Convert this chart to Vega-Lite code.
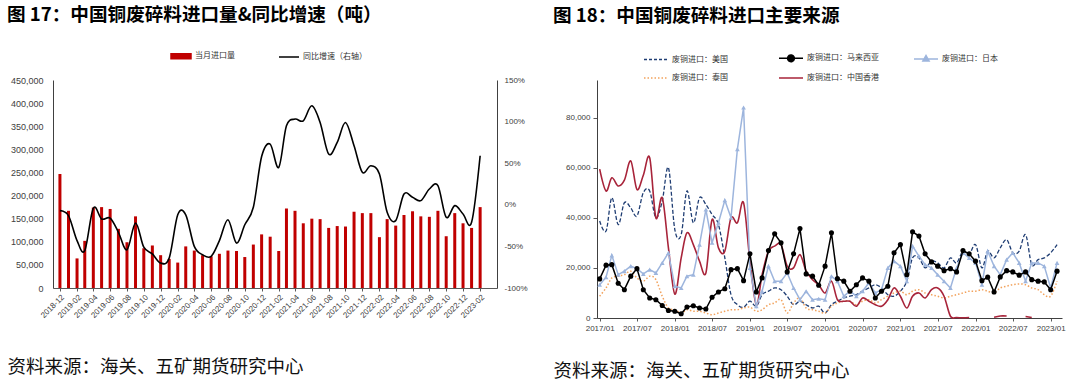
{
  "$schema": "https://vega.github.io/schema/vega-lite/v6.json",
  "background": "white",
  "padding": {"left": 7, "top": 6, "right": 5, "bottom": 4},
  "spacing": 25,
  "resolve": {"scale": {"color": "independent"}, "legend": {"color": "independent"}},
  "config": {
    "view": {"stroke": null},
    "font": "Noto Sans CJK SC",
    "axis": {"labelFont": "Liberation Sans", "labelColor": "#404040", "domainColor": "#595959", "tickColor": "#595959", "grid": false, "titleFont": "Noto Sans CJK SC"},
    "legend": {"labelFont": "Noto Sans CJK SC", "labelColor": "#333333"},
    "title": {"font": "Noto Sans CJK SC"}
  },
  "hconcat": [
    {
      "width": 444,
      "height": 208,
      "title": {"text": "图 17：中国铜废碎料进口量&同比增速（吨）", "anchor": "start", "fontSize": 18.6, "fontWeight": "bold", "color": "#000000", "offset": 20},
      "data": {"values": [
        {"m": "2018-12", "imp": 246600, "yoy": -7},
        {"m": "2019-01", "imp": 167000, "yoy": -13},
        {"m": "2019-02", "imp": 64000, "yoy": -43},
        {"m": "2019-03", "imp": 102000, "yoy": -55},
        {"m": "2019-04", "imp": 174000, "yoy": -4},
        {"m": "2019-05", "imp": 175000, "yoy": -17},
        {"m": "2019-06", "imp": 171000, "yoy": -16},
        {"m": "2019-07", "imp": 128000, "yoy": -33},
        {"m": "2019-08", "imp": 99000, "yoy": -54},
        {"m": "2019-09", "imp": 155000, "yoy": -22},
        {"m": "2019-10", "imp": 86000, "yoy": -51},
        {"m": "2019-11", "imp": 92000, "yoy": -59},
        {"m": "2019-12", "imp": 71000, "yoy": -70},
        {"m": "2020-01", "imp": 63000, "yoy": -64},
        {"m": "2020-02", "imp": 55000, "yoy": -12},
        {"m": "2020-03", "imp": 90000, "yoy": -12},
        {"m": "2020-04", "imp": 81000, "yoy": -50},
        {"m": "2020-05", "imp": 71000, "yoy": -60},
        {"m": "2020-06", "imp": 68500, "yoy": -62},
        {"m": "2020-07", "imp": 74000, "yoy": -43},
        {"m": "2020-08", "imp": 81000, "yoy": -18},
        {"m": "2020-09", "imp": 80000, "yoy": -46},
        {"m": "2020-10", "imp": 67000, "yoy": -24},
        {"m": "2020-11", "imp": 94000, "yoy": -3},
        {"m": "2020-12", "imp": 116000, "yoy": 58},
        {"m": "2021-01", "imp": 111000, "yoy": 73},
        {"m": "2021-02", "imp": 80000, "yoy": 45},
        {"m": "2021-03", "imp": 172000, "yoy": 95},
        {"m": "2021-04", "imp": 167000, "yoy": 103},
        {"m": "2021-05", "imp": 140000, "yoy": 101},
        {"m": "2021-06", "imp": 150000, "yoy": 119},
        {"m": "2021-07", "imp": 149000, "yoy": 99},
        {"m": "2021-08", "imp": 130000, "yoy": 61},
        {"m": "2021-09", "imp": 134000, "yoy": 75},
        {"m": "2021-10", "imp": 133000, "yoy": 99},
        {"m": "2021-11", "imp": 165000, "yoy": 71},
        {"m": "2021-12", "imp": 162000, "yoy": 39},
        {"m": "2022-01", "imp": 162000, "yoy": 47},
        {"m": "2022-02", "imp": 110000, "yoy": 37},
        {"m": "2022-03", "imp": 149000, "yoy": -9},
        {"m": "2022-04", "imp": 135000, "yoy": -19},
        {"m": "2022-05", "imp": 158000, "yoy": 13},
        {"m": "2022-06", "imp": 166000, "yoy": 9},
        {"m": "2022-07", "imp": 155000, "yoy": 5},
        {"m": "2022-08", "imp": 154000, "yoy": 19},
        {"m": "2022-09", "imp": 167000, "yoy": 23},
        {"m": "2022-10", "imp": 112000, "yoy": -15},
        {"m": "2022-11", "imp": 162000, "yoy": -1},
        {"m": "2022-12", "imp": 140000, "yoy": -11},
        {"m": "2023-01", "imp": 130000, "yoy": -21},
        {"m": "2023-02", "imp": 175000, "yoy": 59}
      ]},
      "encoding": {
        "x": {
          "field": "m", "type": "temporal",
          "scale": {"type": "utc", "domain": [{"year": 2018, "month": 11, "date": 24, "utc": true}, {"year": 2023, "month": 3, "date": 16, "utc": true}]},
          "axis": {
            "values": [
              {"year": 2018, "month": 12, "date": 1, "utc": true},
              {"year": 2019, "month": 2, "date": 1, "utc": true},
              {"year": 2019, "month": 4, "date": 1, "utc": true},
              {"year": 2019, "month": 6, "date": 1, "utc": true},
              {"year": 2019, "month": 8, "date": 1, "utc": true},
              {"year": 2019, "month": 10, "date": 1, "utc": true},
              {"year": 2019, "month": 12, "date": 1, "utc": true},
              {"year": 2020, "month": 2, "date": 1, "utc": true},
              {"year": 2020, "month": 4, "date": 1, "utc": true},
              {"year": 2020, "month": 6, "date": 1, "utc": true},
              {"year": 2020, "month": 8, "date": 1, "utc": true},
              {"year": 2020, "month": 10, "date": 1, "utc": true},
              {"year": 2020, "month": 12, "date": 1, "utc": true},
              {"year": 2021, "month": 2, "date": 1, "utc": true},
              {"year": 2021, "month": 4, "date": 1, "utc": true},
              {"year": 2021, "month": 6, "date": 1, "utc": true},
              {"year": 2021, "month": 8, "date": 1, "utc": true},
              {"year": 2021, "month": 10, "date": 1, "utc": true},
              {"year": 2021, "month": 12, "date": 1, "utc": true},
              {"year": 2022, "month": 2, "date": 1, "utc": true},
              {"year": 2022, "month": 4, "date": 1, "utc": true},
              {"year": 2022, "month": 6, "date": 1, "utc": true},
              {"year": 2022, "month": 8, "date": 1, "utc": true},
              {"year": 2022, "month": 10, "date": 1, "utc": true},
              {"year": 2022, "month": 12, "date": 1, "utc": true},
              {"year": 2023, "month": 2, "date": 1, "utc": true}
            ],
            "format": "%Y-%m",
            "labelAngle": -45,
            "labelOverlap": false,
            "labelFontSize": 8,
            "tickSize": 3,
            "labelPadding": 2,
            "title": "资料来源：海关、五矿期货研究中心",
            "titleFontSize": 18.5,
            "titleFontWeight": "normal",
            "titleColor": "#111111",
            "titleAnchor": "start",
            "titleAlign": "left",
            "titleBaseline": "middle",
            "titleX": -46,
            "titleY": 78
          }
        }
      },
      "layer": [
        {
          "mark": {"type": "bar", "size": 3, "color": "#C00000"},
          "encoding": {
            "y": {
              "field": "imp", "type": "quantitative",
              "scale": {"domain": [0, 450000], "nice": false},
              "axis": {"values": [0, 50000, 100000, 150000, 200000, 250000, 300000, 350000, 400000, 450000], "format": ",.0f", "ticks": false, "labelPadding": 10, "labelFontSize": 9, "title": null, "domainColor": "#404040"}
            },
            "color": {
              "datum": "当月进口量",
              "scale": {"domain": ["当月进口量", "同比增速（右轴）"], "range": ["#C00000", "#000000"]},
              "legend": {
                "title": null,
                "orient": "none",
                "legendX": 117,
                "legendY": -35,
                "direction": "horizontal",
                "columnPadding": 41,
                "labelFontSize": 8,
                "labelOffset": 3,
                "symbolSize": 400,
                "symbolStrokeWidth": 1.5,
                "encode": {
                  "symbols": {
                    "update": {
                      "shape": {"signal": "datum.value === '当月进口量' ? 'M-1,-0.25H1V0.25H-1Z' : 'M-1,0H1'"},
                      "fill": {"signal": "datum.value === '当月进口量' ? '#C00000' : 'transparent'"},
                      "stroke": {"signal": "datum.value === '当月进口量' ? 'transparent' : '#000000'"},
                      "strokeWidth": {"value": 1.5},
                      "size": {"value": 400},
                      "opacity": {"value": 1}
                    }
                  }
                }
              }
            }
          }
        },
        {
          "mark": {"type": "line", "interpolate": "cardinal", "strokeWidth": 1.6},
          "encoding": {
            "y": {
              "field": "yoy", "type": "quantitative",
              "scale": {"domain": [-100, 150], "nice": false},
              "axis": {"orient": "right", "values": [-100, -50, 0, 50, 100, 150], "labelExpr": "datum.value + '%'", "ticks": false, "labelPadding": 7, "labelFontSize": 8, "title": null, "domainColor": "#404040"}
            },
            "color": {"datum": "同比增速（右轴）"}
          }
        }
      ],
      "resolve": {"scale": {"y": "independent"}}
    },
    {
      "width": 465,
      "height": 238,
      "title": {"text": "图 18：中国铜废碎料进口主要来源", "anchor": "start", "fontSize": 18.6, "fontWeight": "bold", "color": "#000000", "offset": 19},
      "data": {"values": [
        {"d": "2017-01", "us": 38700, "my": 15600, "jp": 13300, "th": 8700, "hk": 59400},
        {"d": "2017-02", "us": 34700, "my": 21100, "jp": 16300, "th": 12000, "hk": 50700},
        {"d": "2017-03", "us": 48000, "my": 21300, "jp": 25000, "th": 16000, "hk": 56000},
        {"d": "2017-04", "us": 37300, "my": 13900, "jp": 17300, "th": 16700, "hk": 52700},
        {"d": "2017-05", "us": 46000, "my": 11300, "jp": 18700, "th": 17300, "hk": 55000},
        {"d": "2017-06", "us": 44000, "my": 16700, "jp": 20700, "th": 18700, "hk": 62700},
        {"d": "2017-07", "us": 40700, "my": 19700, "jp": 19700, "th": 16000, "hk": 51300},
        {"d": "2017-08", "us": 50000, "my": 11300, "jp": 17600, "th": 14700, "hk": 57000},
        {"d": "2017-09", "us": 50700, "my": 8000, "jp": 19300, "th": 16700, "hk": 64000},
        {"d": "2017-10", "us": 40000, "my": 7300, "jp": 18000, "th": 15300, "hk": 40000},
        {"d": "2017-11", "us": 46700, "my": 5000, "jp": 22000, "th": 8700, "hk": 48000},
        {"d": "2017-12", "us": 60000, "my": 3000, "jp": 26000, "th": 4000, "hk": 28000},
        {"d": "2018-01", "us": 35300, "my": 2700, "jp": 12700, "th": 3300, "hk": 9500},
        {"d": "2018-02", "us": 33300, "my": 1700, "jp": 12000, "th": 2000, "hk": 24000},
        {"d": "2018-03", "us": 50700, "my": 4400, "jp": 16700, "th": 3300, "hk": 34000},
        {"d": "2018-04", "us": 38000, "my": 4900, "jp": 17300, "th": 2700, "hk": 29300},
        {"d": "2018-05", "us": 48000, "my": 4000, "jp": 29300, "th": 2700, "hk": 22700},
        {"d": "2018-06", "us": 45300, "my": 3600, "jp": 43300, "th": 2000, "hk": 18000},
        {"d": "2018-07", "us": 41300, "my": 8300, "jp": 30000, "th": 1300, "hk": 39300},
        {"d": "2018-08", "us": 37300, "my": 10400, "jp": 38000, "th": 2000, "hk": 28000},
        {"d": "2018-09", "us": 24000, "my": 11700, "jp": 47000, "th": 2700, "hk": 26700},
        {"d": "2018-10", "us": 9300, "my": 19300, "jp": 40000, "th": 3300, "hk": 40000},
        {"d": "2018-11", "us": 5300, "my": 19700, "jp": 67400, "th": 3300, "hk": 38000},
        {"d": "2018-12", "us": 4300, "my": 14900, "jp": 84000, "th": 4000, "hk": 46000},
        {"d": "2019-01", "us": 6700, "my": 25600, "jp": 20000, "th": 4300, "hk": 22700},
        {"d": "2019-02", "us": 4700, "my": 10400, "jp": 4700, "th": 2700, "hk": 5300},
        {"d": "2019-03", "us": 9300, "my": 16000, "jp": 10700, "th": 3300, "hk": 17300},
        {"d": "2019-04", "us": 10700, "my": 26900, "jp": 20700, "th": 5300, "hk": 26700},
        {"d": "2019-05", "us": 12000, "my": 33600, "jp": 14700, "th": 6000, "hk": 28700},
        {"d": "2019-06", "us": 11300, "my": 30000, "jp": 14700, "th": 7300, "hk": 29300},
        {"d": "2019-07", "us": 8700, "my": 18400, "jp": 18000, "th": 2000, "hk": 20700},
        {"d": "2019-08", "us": 5300, "my": 25600, "jp": 12000, "th": 6000, "hk": 20000},
        {"d": "2019-09", "us": 6700, "my": 35700, "jp": 7300, "th": 8000, "hk": 25300},
        {"d": "2019-10", "us": 5300, "my": 17600, "jp": 10700, "th": 4000, "hk": 18700},
        {"d": "2019-11", "us": 4000, "my": 16700, "jp": 7300, "th": 3300, "hk": 15300},
        {"d": "2019-12", "us": 4700, "my": 13100, "jp": 7700, "th": 2700, "hk": 13300},
        {"d": "2020-01", "us": 2000, "my": 20700, "jp": 7300, "th": 2000, "hk": 10000},
        {"d": "2020-02", "us": 5300, "my": 34000, "jp": 16700, "th": 4700, "hk": 14700},
        {"d": "2020-03", "us": 6700, "my": 15700, "jp": 14700, "th": 6000, "hk": 7300},
        {"d": "2020-04", "us": 8000, "my": 14700, "jp": 8700, "th": 6700, "hk": 6700},
        {"d": "2020-05", "us": 8700, "my": 10700, "jp": 10700, "th": 6700, "hk": 6700},
        {"d": "2020-06", "us": 9300, "my": 13300, "jp": 8700, "th": 5300, "hk": 4700},
        {"d": "2020-07", "us": 10700, "my": 16000, "jp": 10700, "th": 6700, "hk": 8000},
        {"d": "2020-08", "us": 12000, "my": 14700, "jp": 14000, "th": 7300, "hk": 6700},
        {"d": "2020-09", "us": 13300, "my": 8000, "jp": 10000, "th": 6000, "hk": 5300},
        {"d": "2020-10", "us": 12000, "my": 10700, "jp": 11300, "th": 7300, "hk": 4700},
        {"d": "2020-11", "us": 9300, "my": 12700, "jp": 20000, "th": 8700, "hk": 7300},
        {"d": "2020-12", "us": 8700, "my": 26000, "jp": 22700, "th": 10000, "hk": 12000},
        {"d": "2021-01", "us": 10700, "my": 29300, "jp": 20700, "th": 10700, "hk": 8700},
        {"d": "2021-02", "us": 14700, "my": 17300, "jp": 14700, "th": 9300, "hk": 4000},
        {"d": "2021-03", "us": 24000, "my": 34400, "jp": 28700, "th": 10700, "hk": 8700},
        {"d": "2021-04", "us": 24000, "my": 32700, "jp": 24700, "th": 11300, "hk": 10000},
        {"d": "2021-05", "us": 20000, "my": 25600, "jp": 21300, "th": 10000, "hk": 8000},
        {"d": "2021-06", "us": 22700, "my": 22400, "jp": 20000, "th": 9300, "hk": 11300},
        {"d": "2021-07", "us": 22000, "my": 20700, "jp": 17300, "th": 8700, "hk": 12000},
        {"d": "2021-08", "us": 20000, "my": 18900, "jp": 14700, "th": 8000, "hk": 8700},
        {"d": "2021-09", "us": 24000, "my": 19700, "jp": 12000, "th": 8700, "hk": 700},
        {"d": "2021-10", "us": 22000, "my": 18400, "jp": 20000, "th": 9300, "hk": 200},
        {"d": "2021-11", "us": 26700, "my": 26900, "jp": 26000, "th": 10000, "hk": 100},
        {"d": "2021-12", "us": 25300, "my": 25600, "jp": 24000, "th": 10700, "hk": 200},
        {"d": "2022-01", "us": 29300, "my": 22700, "jp": 22000, "th": 10700, "hk": null},
        {"d": "2022-02", "us": 20000, "my": 14900, "jp": 13300, "th": 11300, "hk": null},
        {"d": "2022-03", "us": 26700, "my": 16300, "jp": 26700, "th": 10700, "hk": null},
        {"d": "2022-04", "us": 24000, "my": 10400, "jp": 20700, "th": 10000, "hk": 300},
        {"d": "2022-05", "us": 28000, "my": 16400, "jp": 17300, "th": 12000, "hk": 800},
        {"d": "2022-06", "us": 31300, "my": 18900, "jp": 23300, "th": 12700, "hk": 800},
        {"d": "2022-07", "us": 26000, "my": 18400, "jp": 26000, "th": 13300, "hk": null},
        {"d": "2022-08", "us": 26700, "my": 17100, "jp": 22000, "th": 13600, "hk": null},
        {"d": "2022-09", "us": 33300, "my": 18400, "jp": 14700, "th": 13300, "hk": 600},
        {"d": "2022-10", "us": 21300, "my": 15300, "jp": 22000, "th": 12000, "hk": 200},
        {"d": "2022-11", "us": 23300, "my": 14700, "jp": 22000, "th": 11300, "hk": null},
        {"d": "2022-12", "us": 24000, "my": 14400, "jp": 20700, "th": 9300, "hk": null},
        {"d": "2023-01", "us": 26000, "my": 11300, "jp": 12000, "th": 8700, "hk": null},
        {"d": "2023-02", "us": 29300, "my": 18700, "jp": 22000, "th": 14700, "hk": null}
      ]},
      "encoding": {
        "x": {
          "field": "d", "type": "temporal",
          "scale": {"type": "utc", "domain": [{"year": 2016, "month": 12, "date": 19, "utc": true}, {"year": 2023, "month": 2, "date": 25, "utc": true}]},
          "axis": {
            "values": [
              {"year": 2017, "month": 1, "date": 1, "utc": true},
              {"year": 2017, "month": 7, "date": 1, "utc": true},
              {"year": 2018, "month": 1, "date": 1, "utc": true},
              {"year": 2018, "month": 7, "date": 1, "utc": true},
              {"year": 2019, "month": 1, "date": 1, "utc": true},
              {"year": 2019, "month": 7, "date": 1, "utc": true},
              {"year": 2020, "month": 1, "date": 1, "utc": true},
              {"year": 2020, "month": 7, "date": 1, "utc": true},
              {"year": 2021, "month": 1, "date": 1, "utc": true},
              {"year": 2021, "month": 7, "date": 1, "utc": true},
              {"year": 2022, "month": 1, "date": 1, "utc": true},
              {"year": 2022, "month": 7, "date": 1, "utc": true},
              {"year": 2023, "month": 1, "date": 1, "utc": true}
            ],
            "format": "%Y/%m",
            "labelAngle": 0,
            "labelOverlap": false,
            "labelFontSize": 8,
            "tickSize": 3,
            "labelPadding": 3,
            "domainColor": "#404040",
            "title": "资料来源：海关、五矿期货研究中心",
            "titleFontSize": 18.5,
            "titleFontWeight": "normal",
            "titleColor": "#111111",
            "titleAnchor": "start",
            "titleAlign": "left",
            "titleBaseline": "middle",
            "titleX": -44,
            "titleY": 52
          }
        }
      },
      "layer": [
        {
          "mark": {"type": "line", "interpolate": "cardinal", "strokeWidth": 1.3, "strokeDash": [4, 2]},
          "encoding": {
            "y": {
              "field": "us", "type": "quantitative",
              "scale": {"domain": [0, 95000], "nice": false},
              "axis": {"values": [0, 10000, 20000, 30000, 40000, 50000, 60000, 70000, 80000, 90000], "format": ",.0f", "tickSize": 4, "labelPadding": 3, "labelFontSize": 8, "title": null, "domainColor": "#404040"}
            },
            "color": {
              "datum": "废铜进口：美国",
              "scale": {"domain": ["废铜进口：美国", "废铜进口：马来西亚", "废铜进口：日本", "废铜进口：泰国", "废铜进口：中国香港"], "range": ["#1F3D73", "#000000", "#9DB5DD", "#F2A25C", "#A8243A"]},
              "legend": {
                "title": null,
                "orient": "none",
                "legendX": 46,
                "legendY": -35,
                "direction": "horizontal",
                "columns": 3,
                "gridAlign": "all",
                "columnPadding": 32,
                "rowPadding": -6,
                "labelFontSize": 8,
                "labelOffset": 3,
                "symbolSize": 576,
                "symbolStrokeWidth": 1.5,
                "encode": {
                  "symbols": {
                    "update": {
                      "shape": {"signal": "datum.value === '废铜进口：马来西亚' ? 'M-1,0H1M0.28,0A0.28,0.28,0,1,1,-0.28,0A0.28,0.28,0,1,1,0.28,0Z' : datum.value === '废铜进口：日本' ? 'M-1,0H1M0,-0.28L0.26,0.18L-0.26,0.18Z' : 'M-1,0H1'"},
                      "fill": {"signal": "datum.value === '废铜进口：马来西亚' ? '#000000' : datum.value === '废铜进口：日本' ? '#9DB5DD' : 'transparent'"},
                      "stroke": {"signal": "datum.value === '废铜进口：美国' ? '#1F3D73' : datum.value === '废铜进口：马来西亚' ? '#000000' : datum.value === '废铜进口：日本' ? '#9DB5DD' : datum.value === '废铜进口：泰国' ? '#F2A25C' : '#A8243A'"},
                      "strokeDash": {"signal": "datum.value === '废铜进口：美国' ? [3, 2] : datum.value === '废铜进口：泰国' ? [1.5, 2] : [1, 0]"},
                      "strokeWidth": {"value": 1.5},
                      "size": {"value": 576},
                      "opacity": {"value": 1}
                    }
                  }
                }
              }
            }
          }
        },
        {
          "mark": {"type": "line", "interpolate": "cardinal", "strokeWidth": 1.5, "strokeDash": [1.5, 2]},
          "encoding": {"y": {"field": "th", "type": "quantitative"}, "color": {"datum": "废铜进口：泰国"}}
        },
        {
          "mark": {"type": "line", "interpolate": "cardinal", "strokeWidth": 1.6, "invalid": "break-paths-show-domains"},
          "encoding": {"y": {"field": "hk", "type": "quantitative"}, "color": {"datum": "废铜进口：中国香港"}}
        },
        {
          "mark": {"type": "line", "interpolate": "linear", "strokeWidth": 1.5},
          "encoding": {"y": {"field": "jp", "type": "quantitative"}, "color": {"datum": "废铜进口：日本"}}
        },
        {
          "mark": {"type": "point", "shape": "triangle-up", "filled": true, "size": 22, "opacity": 1},
          "encoding": {"y": {"field": "jp", "type": "quantitative"}, "color": {"datum": "废铜进口：日本"}}
        },
        {
          "mark": {"type": "line", "interpolate": "linear", "strokeWidth": 1.5},
          "encoding": {"y": {"field": "my", "type": "quantitative"}, "color": {"datum": "废铜进口：马来西亚"}}
        },
        {
          "mark": {"type": "point", "shape": "circle", "filled": true, "size": 26, "opacity": 1},
          "encoding": {"y": {"field": "my", "type": "quantitative"}, "color": {"datum": "废铜进口：马来西亚"}}
        }
      ]
    }
  ]
}
